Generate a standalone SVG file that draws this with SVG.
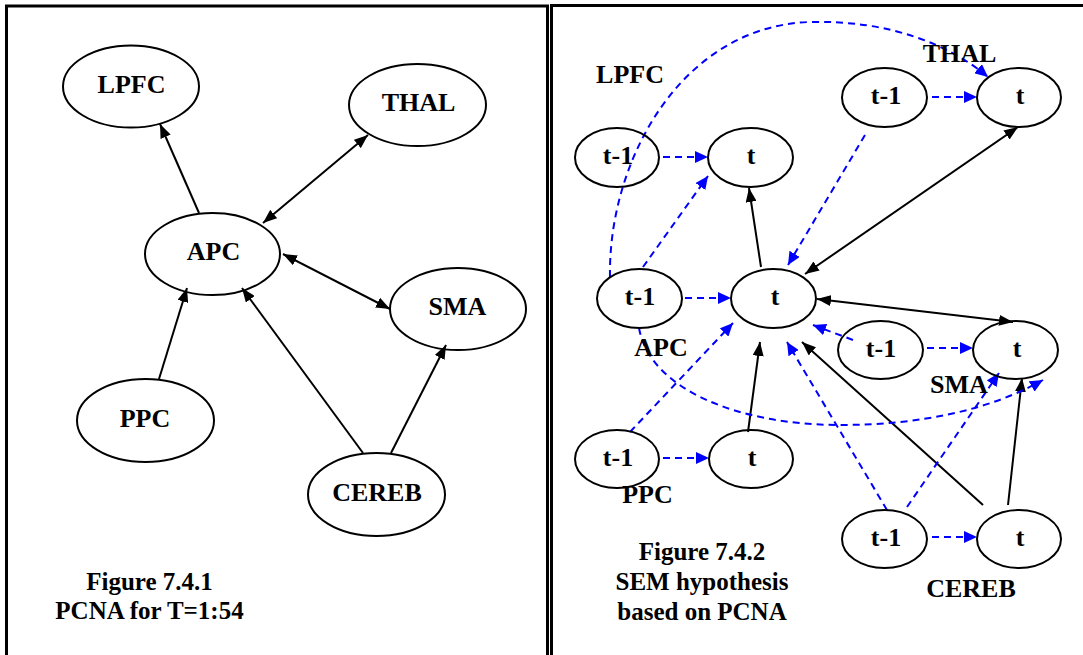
<svg xmlns="http://www.w3.org/2000/svg" width="1083" height="655" viewBox="0 0 1083 655">
<style>
.frame{fill:none;stroke:#000;stroke-width:3}
.node{fill:none;stroke:#000;stroke-width:2}
.lbl{font-family:"Liberation Serif","Times New Roman",serif;font-weight:bold;font-size:26px;text-anchor:middle;fill:#000}
.cap{font-family:"Liberation Serif","Times New Roman",serif;font-weight:bold;font-size:25px;text-anchor:middle;fill:#000}
.blk{fill:none;stroke:#000;stroke-width:2;marker-end:url(#ah)}
.bi{marker-start:url(#ah)}
.blu{fill:none;stroke:#0000ff;stroke-width:2;stroke-dasharray:7,5;marker-end:url(#bh)}
</style>
<defs>
<marker id="ah" viewBox="0 0 14 11" refX="14" refY="5.5" markerWidth="14" markerHeight="11" markerUnits="userSpaceOnUse" orient="auto-start-reverse"><path d="M0,0L14,5.5L0,11z" fill="#000"/></marker>
<marker id="bh" viewBox="0 0 13 12" refX="13" refY="6" markerWidth="13" markerHeight="12" markerUnits="userSpaceOnUse" orient="auto"><path d="M0,0L13,6L0,12z" fill="#0000ff"/></marker>
</defs>
<rect width="1083" height="655" fill="#fff"/>
<g id="frames">
<path class="frame" d="M6.5,660 V6 H547.5 V660"/>
<path class="frame" d="M551.5,660 V5.5 H1090"/>
</g>
<g id="connectors">
<path class="blk" d="M199,213 L160,124"/>
<path class="blk bi" d="M263,223 L368,135"/>
<path class="blk bi" d="M283,254 L390,309"/>
<path class="blk" d="M159,379 L187,288"/>
<path class="blk" d="M363,453 L242,288"/>
<path class="blk" d="M391,453 L446,345"/>
<path class="blk" d="M761,267 L749,188"/>
<path class="blk bi" d="M805,274 L1018,127"/>
<path class="blk bi" d="M817,299 L1013,322"/>
<path class="blk" d="M748,432 L760,342"/>
<path class="blk" d="M983,505 L802,342"/>
<path class="blk" d="M1008,505 L1022,378"/>
<path class="blu" d="M663,157 L708,157"/>
<path class="blu" d="M932,97 L977,97"/>
<path class="blu" d="M685,298 L731,298"/>
<path class="blu" d="M927,348 L973,348"/>
<path class="blu" d="M663,458 L709,458"/>
<path class="blu" d="M932,537 L977,537"/>
<path class="blu" d="M643,267 L708,176"/>
<path class="blu" d="M865,135 L788,265"/>
<path class="blu" d="M630,432 L733,323"/>
<path class="blu" d="M853,340 L813,325"/>
<path class="blu" d="M887,510 L787,342"/>
<path class="blu" d="M907,507 L999,373"/>
<path class="blu" d="M610,277 C608,160 682,26 810,22 C890,20 950,45 988,77"/>
<path class="blu" d="M639,328 C650,390 740,425 840,425 C920,425 990,410 1043,380"/>
</g>
<g id="LPFC"><ellipse class="node" cx="131" cy="86.5" rx="68" ry="41"/><text class="lbl" x="131.5" y="93">LPFC</text></g>
<g id="THAL"><ellipse class="node" cx="417.5" cy="105" rx="68.5" ry="41"/><text class="lbl" x="418.5" y="111">THAL</text></g>
<g id="APC"><ellipse class="node" cx="212.5" cy="254" rx="67.5" ry="41"/><text class="lbl" x="213.5" y="260">APC</text></g>
<g id="SMA"><ellipse class="node" cx="458" cy="309" rx="68" ry="41"/><text class="lbl" x="457.5" y="315">SMA</text></g>
<g id="PPC"><ellipse class="node" cx="145.5" cy="420.5" rx="68.5" ry="41.5"/><text class="lbl" x="145" y="427">PPC</text></g>
<g id="CEREB"><ellipse class="node" cx="376.5" cy="494.5" rx="68.5" ry="41.5"/><text class="lbl" x="377" y="501">CEREB</text></g>
<g id="caption1"><text class="cap" x="149.5" y="590">Figure 7.4.1</text><text class="cap" x="149.5" y="619">PCNA for T=1:54</text></g>
<g id="LPFC_t1"><ellipse class="node" cx="617" cy="157.5" rx="42" ry="29.5"/><text class="lbl" x="618" y="164">t-1</text></g>
<g id="LPFC_t"><ellipse class="node" cx="750.5" cy="157.5" rx="42.5" ry="29.5"/><text class="lbl" x="751" y="164">t</text></g>
<g id="THAL_t1"><ellipse class="node" cx="884.5" cy="97.5" rx="42.5" ry="29.5"/><text class="lbl" x="886" y="104">t-1</text></g>
<g id="THAL_t"><ellipse class="node" cx="1019" cy="97.5" rx="42" ry="29.5"/><text class="lbl" x="1020" y="104">t</text></g>
<g id="APC_t1"><ellipse class="node" cx="639.5" cy="298.5" rx="42.5" ry="29.5"/><text class="lbl" x="640" y="305">t-1</text></g>
<g id="APC_t"><ellipse class="node" cx="773.5" cy="298.5" rx="42.5" ry="29.5"/><text class="lbl" x="775" y="305">t</text></g>
<g id="SMA_t1"><ellipse class="node" cx="880.5" cy="350" rx="42.5" ry="29"/><text class="lbl" x="881" y="356.5">t-1</text></g>
<g id="SMA_t"><ellipse class="node" cx="1015.5" cy="350" rx="42.5" ry="29"/><text class="lbl" x="1017" y="356.5">t</text></g>
<g id="PPC_t1"><ellipse class="node" cx="617" cy="459" rx="42" ry="29"/><text class="lbl" x="618" y="465.5">t-1</text></g>
<g id="PPC_t"><ellipse class="node" cx="751" cy="459" rx="42" ry="29"/><text class="lbl" x="752" y="465.5">t</text></g>
<g id="CEREB_t1"><ellipse class="node" cx="884.5" cy="539" rx="42.5" ry="29"/><text class="lbl" x="886" y="545.5">t-1</text></g>
<g id="CEREB_t"><ellipse class="node" cx="1019" cy="539" rx="42" ry="29"/><text class="lbl" x="1020" y="545.5">t</text></g>
<g id="labels2">
<text class="lbl" x="630" y="83">LPFC</text>
<text class="lbl" x="959.5" y="62">THAL</text>
<text class="lbl" x="661" y="356">APC</text>
<text class="lbl" x="959" y="393">SMA</text>
<text class="lbl" x="647.5" y="503">PPC</text>
<text class="lbl" x="971" y="597">CEREB</text>
</g>
<g id="caption2"><text class="cap" x="702" y="560">Figure 7.4.2</text><text class="cap" x="702" y="590">SEM hypothesis</text><text class="cap" x="702" y="620">based on PCNA</text></g>
</svg>
